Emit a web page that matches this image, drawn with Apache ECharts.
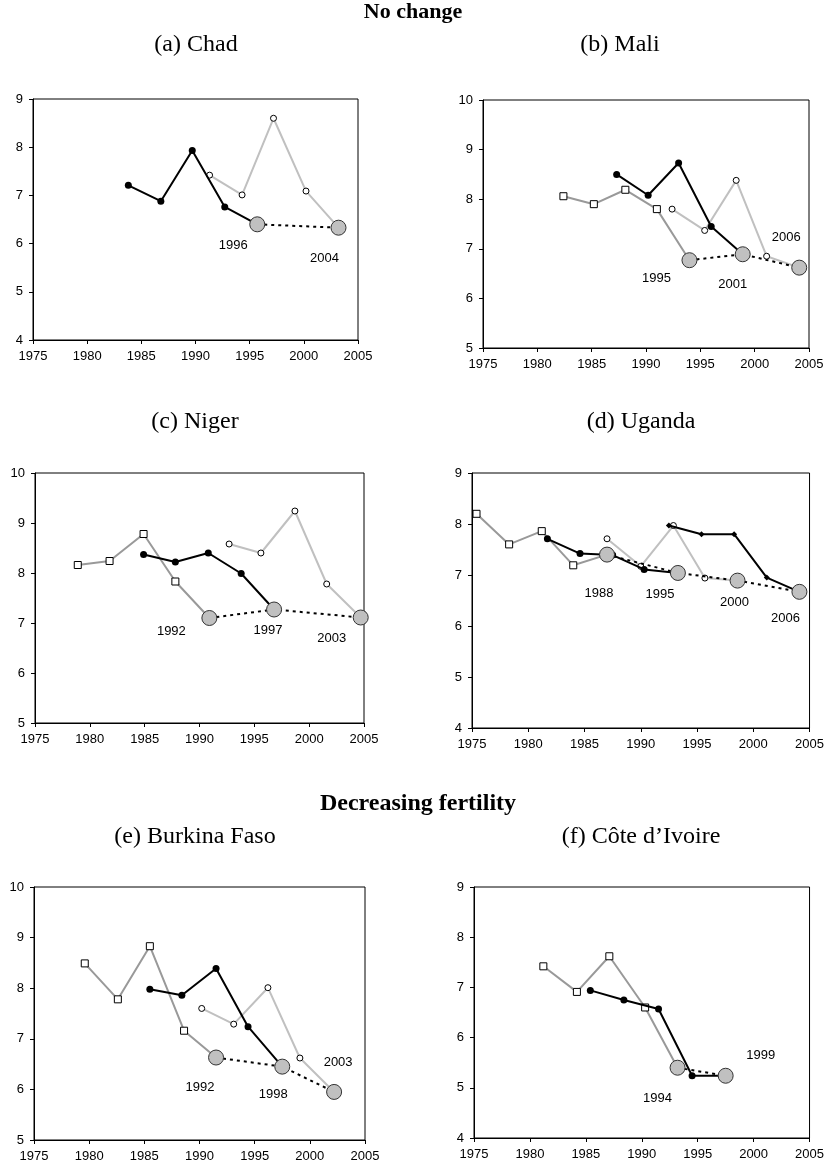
<!DOCTYPE html>
<html><head><meta charset="utf-8">
<script src="https://cdn.jsdelivr.net/npm/echarts@6/dist/echarts.min.js"></script>
<style>html,body{margin:0;padding:0;background:#fff}#c{width:827px;height:1169px}</style>
</head><body><div id="c"></div>
<script>
// ---------- DATA ----------
const xTicks = [1975, 1980, 1985, 1990, 1995, 2000, 2005];

// (a) Chad
const chadMid = [[1983.8,7.21],[1986.8,6.88],[1989.7,7.93],[1992.7,6.76],[1995.7,6.40]];
const chadNew = [[1991.3,7.42],[1994.3,7.01],[1997.2,8.60],[2000.2,7.09],[2003.2,6.33]];
const chadSurveys = ['1996','2004'];

// (b) Mali
const maliOld = [[1982.4,8.06],[1985.2,7.90],[1988.1,8.19],[1991.0,7.80],[1994.0,6.77]];
const maliMid = [[1987.3,8.50],[1990.2,8.08],[1993.0,8.73],[1996.0,7.45],[1998.9,6.89]];
const maliNew = [[1992.4,7.80],[1995.4,7.37],[1998.3,8.38],[2001.1,6.85],[2004.1,6.62]];
const maliSurveys = ['1995','2001','2006'];

// (c) Niger
const nigerOld = [[1978.9,8.16],[1981.8,8.24],[1984.9,8.78],[1987.8,7.83],[1990.9,7.10]];
const nigerMid = [[1984.9,8.37],[1987.8,8.22],[1990.8,8.40],[1993.8,7.99],[1996.8,7.27]];
const nigerNew = [[1992.7,8.58],[1995.6,8.40],[1998.7,9.24],[2001.6,7.78],[2004.7,7.11]];
const nigerSurveys = ['1992','1997','2003'];

// (d) Uganda
const ugandaOld = [[1975.4,8.20],[1978.3,7.60],[1981.2,7.86],[1984.0,7.19],[1987.0,7.40]];
const ugandaMid = [[1981.7,7.71],[1984.6,7.42],[1987.5,7.39],[1990.3,7.11],[1993.3,7.04]];
const ugandaNew = [[1987.0,7.71],[1990.0,7.17],[1992.9,7.97],[1995.7,6.94],[1998.6,6.89]];
const ugandaLatest = [[1992.5,7.97],[1995.4,7.80],[1998.3,7.80],[2001.2,6.95],[2004.1,6.67]];
const ugandaSurveys = ['1988','1995','2000','2006'];

// (e) Burkina Faso
const burkinaOld = [[1979.6,8.49],[1982.6,7.78],[1985.5,8.83],[1988.6,7.16],[1991.5,6.63]];
const burkinaMid = [[1985.5,7.98],[1988.4,7.86],[1991.5,8.39],[1994.4,7.24],[1997.5,6.45]];
const burkinaNew = [[1990.2,7.60],[1993.1,7.29],[1996.2,8.01],[1999.1,6.62],[2002.2,5.95]];
const burkinaSurveys = ['1992','1998','2003'];

// (f) Côte d'Ivoire
const coteOld = [[1981.2,7.42],[1984.2,6.91],[1987.1,7.62],[1990.3,6.60],[1993.2,5.40]];
const coteMid = [[1985.4,6.94],[1988.4,6.75],[1991.5,6.57],[1994.5,5.24],[1997.5,5.24]];
const coteSurveys = ['1994','1999'];

// ---------- LAYOUT ----------
const panels = [
  {title:'(a) Chad', tx:196, ty:45, yMin:4, yMax:9, grid:{left:33, top:99, width:325, height:241},
   lines:{mid:chadMid, new:chadNew}, surveys:chadSurveys, offs:[[-24,21],[-14,31]]},
  {title:'(b) Mali', tx:620, ty:45, yMin:5, yMax:10, grid:{left:483, top:100, width:326, height:248},
   lines:{old:maliOld, mid:maliMid, new:maliNew}, surveys:maliSurveys, offs:[[-33,18],[-10,30],[-13,-30]]},
  {title:'(c) Niger', tx:195, ty:422, yMin:5, yMax:10, grid:{left:35, top:473, width:329, height:250},
   lines:{old:nigerOld, mid:nigerMid, new:nigerNew}, surveys:nigerSurveys, offs:[[-38,13],[-6,21],[-29,21]]},
  {title:'(d) Uganda', tx:641, ty:422, yMin:4, yMax:9, grid:{left:472, top:473, width:341, height:255},
   lines:{old:ugandaOld, mid:ugandaMid, new:ugandaNew, latest:ugandaLatest}, surveys:ugandaSurveys, offs:[[-8,39],[-18,21],[-3,22],[-14,27]]},
  {title:'(e) Burkina Faso', tx:195, ty:837, yMin:5, yMax:10, grid:{left:34, top:887, width:331, height:253},
   lines:{old:burkinaOld, mid:burkinaMid, new:burkinaNew}, surveys:burkinaSurveys, offs:[[-16,30],[-9,28],[4,-30]]},
  {title:'(f) C\u00f4te d\u2019Ivoire', tx:641, ty:837, yMin:4, yMax:9, grid:{left:474, top:887, width:336, height:251},
   lines:{old:coteOld, mid:coteMid}, surveys:coteSurveys, offs:[[-20,31],[35,-20]]}
];

const styles = {
  new:    {line:'#c0c0c0', symbol:'circle',  size:6, fill:'#fff', border:'#000', bw:1, z:2},
  old:    {line:'#999999', symbol:'rect',    size:7, fill:'#fff', border:'#000', bw:1, z:3},
  mid:    {line:'#000000', symbol:'circle',  size:7, fill:'#000', border:'#000', bw:0, z:4},
  latest: {line:'#000000', symbol:'diamond', size:6, fill:'#000', border:'#000', bw:0, z:4}
};

const sans = 'Liberation Sans, Arial, sans-serif';
const serif = 'Liberation Serif, Times New Roman, serif';

const grids = [], xAxes = [], yAxes = [], series = [], graphics = [];

panels.forEach((p, i) => {
  grids.push(Object.assign({show:true, borderColor:'#000', borderWidth:1, containLabel:false}, p.grid));
  xAxes.push({type:'value', gridIndex:i, min:xTicks[0], max:xTicks[xTicks.length-1], interval:xTicks[1]-xTicks[0],
    axisLine:{show:true, onZero:false, lineStyle:{color:'#000', width:1}},
    axisTick:{show:true, length:4, lineStyle:{color:'#000'}},
    axisLabel:{fontSize:13, color:'#000', fontFamily:sans, margin:10, formatter:v=>String(v)},
    splitLine:{show:false}});
  yAxes.push({type:'value', gridIndex:i, min:p.yMin, max:p.yMax, interval:1,
    axisLine:{show:true, onZero:false, lineStyle:{color:'#000', width:1}},
    axisTick:{show:true, length:4, lineStyle:{color:'#000'}},
    axisLabel:{fontSize:13, color:'#000', fontFamily:sans, margin:10},
    splitLine:{show:false}});

  const ends = [];
  ['new','old','mid','latest'].forEach(k => {
    const d = p.lines[k];
    if (!d) return;
    const s = styles[k];
    series.push({type:'line', xAxisIndex:i, yAxisIndex:i, data:d, z:s.z,
      symbol:s.symbol, symbolSize:s.size, showSymbol:true,
      lineStyle:{color:s.line, width:2},
      itemStyle:{color:s.fill, borderColor:s.border, borderWidth:s.bw, opacity:1},
      emphasis:{disabled:true}});
    ends.push(d[d.length-1]);
  });
  ends.sort((a,b)=>a[0]-b[0]);
  series.push({type:'line', xAxisIndex:i, yAxisIndex:i, data:ends, z:5, symbol:'none',
    lineStyle:{color:'#000', width:2, type:[3,4]}, emphasis:{disabled:true}});
  series.push({type:'scatter', xAxisIndex:i, yAxisIndex:i, z:6,
    data: ends.map((e, j) => ({value:e, label:{show:true, formatter:p.surveys[j], offset:p.offs[j]}})),
    symbol:'circle', symbolSize:15,
    itemStyle:{color:'#c0c0c0', borderColor:'#333', borderWidth:1, opacity:1},
    label:{position:'inside', fontSize:13, color:'#000', fontFamily:sans},
    emphasis:{disabled:true}});

  graphics.push({type:'text', x:p.tx, y:p.ty, style:{text:p.title, font:'24px ' + serif, fill:'#000', textAlign:'center', textVerticalAlign:'middle'}});
});

graphics.push({type:'text', x:413, y:12, style:{text:'No change', font:'bold 22px ' + serif, fill:'#000', textAlign:'center', textVerticalAlign:'middle'}});
graphics.push({type:'text', x:418, y:804, style:{text:'Decreasing fertility', font:'bold 24px ' + serif, fill:'#000', textAlign:'center', textVerticalAlign:'middle'}});

const chart = echarts.init(document.getElementById('c'), null, {renderer:'canvas'});
chart.setOption({animation:false, backgroundColor:'#fff', grid:grids, xAxis:xAxes, yAxis:yAxes, series:series, graphic:graphics});
</script></body></html>
